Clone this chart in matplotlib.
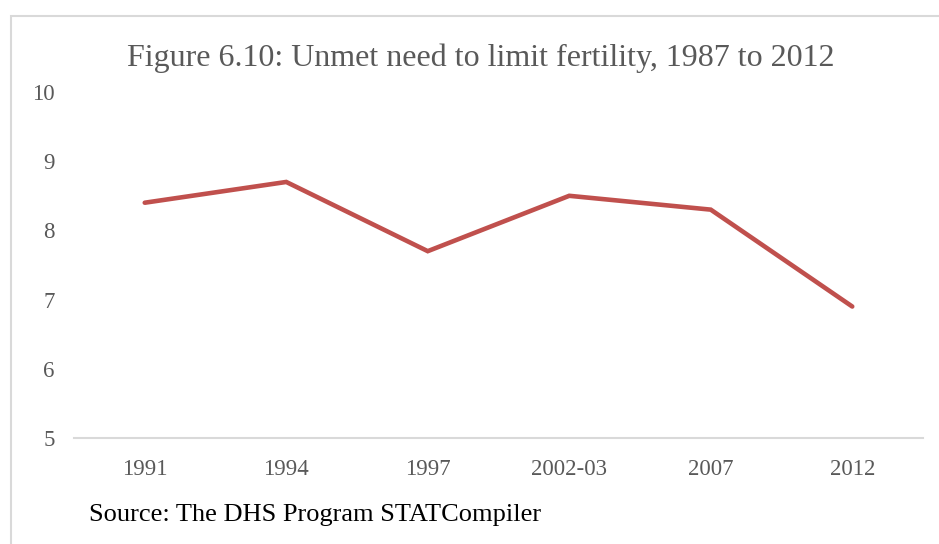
import matplotlib
matplotlib.use("Agg")
import matplotlib.pyplot as plt
from matplotlib.patches import Rectangle

categories = ["1991", "1994", "1997", "2002-03", "2007", "2012"]
values = [8.4, 8.7, 7.7, 8.5, 8.3, 6.9]
yticks = [5, 6, 7, 8, 9, 10]

plt.rcParams['font.family'] = ['Liberation Serif', 'DejaVu Serif']

W, H = 939, 544
fig = plt.figure(figsize=(W/100, H/100), dpi=100)

# outer chart border
fig.patches.append(Rectangle((11/W, -0.1), 1.2, (544-16)/H + 0.1, transform=fig.transFigure,
                             fill=False, edgecolor='#d9d9d9', linewidth=1.5))

ax = fig.add_axes([74/W, (H-438)/H, (923-74)/W, (438-92)/H])
x = list(range(len(categories)))
ax.plot(x, values, color='#C0504D', linewidth=3.3, solid_capstyle='round', solid_joinstyle='miter')
ax.set_xlim(-0.5, len(categories)-0.5)
ax.set_ylim(5, 10)
ax.set_yticks(yticks)
ax.set_xticks(x)
ax.set_xticklabels(categories)
for s in ['top', 'right', 'left']:
    ax.spines[s].set_visible(False)
ax.spines['bottom'].set_color('#d9d9d9')
ax.spines['bottom'].set_linewidth(1.5)
ax.tick_params(axis='both', length=0, labelsize=16.5, labelcolor='#595959')
ax.tick_params(axis='y', pad=14)
ax.tick_params(axis='x', pad=15)

fig.text(481/W, 1 - 58/H, "Figure 6.10: Unmet need to limit fertility, 1987 to 2012",
         ha='center', va='center', fontsize=23, color='#595959')
fig.text(89/W, 1 - 515/H, "Source: The DHS Program STATCompiler",
         ha='left', va='center', fontsize=19, color='black')

fig.savefig("out.png", dpi=100)
